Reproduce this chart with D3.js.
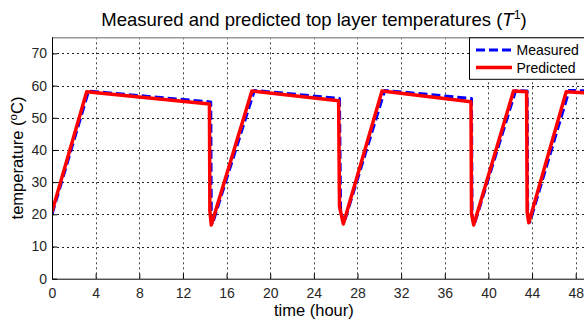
<!DOCTYPE html>
<html>
<head>
<meta charset="utf-8">
<script src="https://cdn.jsdelivr.net/npm/d3@7/dist/d3.min.js"></script>
<style>
  html, body { margin: 0; padding: 0; background: #fff; }
  svg { display: block; font-family: "Liberation Sans", Arial, sans-serif; }
</style>
</head>
<body>
<svg id="chart" width="584" height="323"></svg>
<script>
// Measured top layer temperature (blue dashed)
const measuredTime = [0, 3.35, 14.55, 14.6, 14.7, 18.55, 26.35, 26.45, 26.75, 30.5, 38.45, 38.5, 38.7, 42.5, 43.55, 43.6, 43.8, 47.4, 49.5];
const measuredTemp = [20.0, 58.3, 54.9, 20.5, 17.0, 58.5, 56.0, 21.5, 17.2, 58.5, 56.0, 20.0, 16.8, 58.5, 58.3, 20.5, 17.6, 58.5, 58.3];

// Predicted top layer temperature (red solid)
const predictedTime = [0, 3.18, 14.43, 14.47, 14.6, 18.32, 26.27, 26.35, 26.7, 30.25, 38.4, 38.45, 38.65, 42.3, 43.5, 43.55, 43.7, 47.13, 49.5];
const predictedTemp = [20.8, 58.1, 54.3, 21.0, 16.7, 58.3, 55.3, 22.4, 17.0, 58.3, 55.0, 20.3, 16.7, 58.3, 58.1, 20.8, 17.4, 58.1, 57.6];

const xTicks = [0, 4, 8, 12, 16, 20, 24, 28, 32, 36, 40, 44, 48];
const yTicks = [0, 10, 20, 30, 40, 50, 60, 70];

const svg = d3.select("#chart");
const padL = 52, padB = 278.7, padT = 37.3, padR = 590;

const x = d3.scaleLinear().domain([0, 48]).range([padL, 575.7]);
const y = d3.scaleLinear().domain([0, 75]).range([padB, padT]);

// grid
const grid = svg.append("g");
grid.selectAll(".gy").data(yTicks.filter(d => d > 0)).join("line")
  .attr("x1", padL).attr("x2", padR)
  .attr("y1", d => Math.round(y(d)) + 0.5).attr("y2", d => Math.round(y(d)) + 0.5)
  .attr("stroke", "#222").attr("stroke-width", 1).attr("stroke-dasharray", "2,3");
grid.selectAll(".gx").data(xTicks.filter(d => d > 0)).join("line")
  .attr("x1", d => Math.round(x(d)) + 0.5).attr("x2", d => Math.round(x(d)) + 0.5)
  .attr("y1", padT).attr("y2", padB)
  .attr("stroke", "#444").attr("stroke-width", 1).attr("stroke-dasharray", "2,3");

// clip for curves
svg.append("clipPath").attr("id", "plotClip").append("rect")
  .attr("x", padL).attr("y", padT).attr("width", padR - padL).attr("height", padB - padT);

const line = d3.line().x(d => x(d[0])).y(d => y(d[1]));
const measured = measuredTime.map((t, i) => [t, measuredTemp[i]]);
const predicted = predictedTime.map((t, i) => [t, predictedTemp[i]]);

const curves = svg.append("g").attr("clip-path", "url(#plotClip)");
curves.append("path").datum(measured).attr("d", line)
  .attr("fill", "none").attr("stroke", "#0000ff").attr("stroke-width", 3)
  .attr("stroke-dasharray", "9,4").attr("stroke-linejoin", "round");
curves.append("path").datum(predicted).attr("d", line)
  .attr("fill", "none").attr("stroke", "#ff0000").attr("stroke-width", 3.5)
  .attr("stroke-linejoin", "round");

// axes frame
svg.append("line").attr("x1", padL).attr("x2", padR).attr("y1", padT + 0.5).attr("y2", padT + 0.5)
  .attr("stroke", "#999").attr("stroke-width", 1.5);
const xAxis = d3.axisBottom(x).tickValues(xTicks).tickSize(-5).tickPadding(9).tickFormat(d3.format("d"));
const yAxis = d3.axisLeft(y).tickValues(yTicks).tickSize(-5).tickPadding(5).tickFormat(d3.format("d"));

const gx = svg.append("g").attr("transform", `translate(0,${padB})`).call(xAxis);
gx.select(".domain").attr("d", `M${padL},0.5H${padR}`).attr("stroke", "#000");
const gy = svg.append("g").attr("transform", `translate(${padL},0)`).call(yAxis);
gy.select(".domain").attr("d", `M0.5,${padT}V${padB}`).attr("stroke", "#000");

[gx, gy].forEach(g => {
  g.selectAll("text").attr("font-size", 14).attr("fill", "#262626")
    .attr("font-family", "'Liberation Sans', Arial, sans-serif");
  g.selectAll(".tick line").attr("stroke", "#000");
});

// axis labels
svg.append("text").attr("x", x(24)).attr("y", 316).attr("text-anchor", "middle")
  .attr("font-size", 16.5).attr("fill", "#000").text("time (hour)");
const yl = svg.append("text").attr("transform", `translate(23,${y(37.5)}) rotate(-90)`)
  .attr("text-anchor", "middle").attr("font-size", 16.5).attr("fill", "#000");
yl.append("tspan").text("temperature (");
yl.append("tspan").attr("dy", -6).attr("font-size", 11.5).text("o");
yl.append("tspan").attr("dy", 6).text("C)");

// title
const title = svg.append("text").attr("x", 314).attr("y", 26).attr("text-anchor", "middle")
  .attr("font-size", 18.5).attr("fill", "#000");
title.append("tspan").text("Measured and predicted top layer temperatures (");
title.append("tspan").attr("font-style", "italic").text("T");
title.append("tspan").attr("dy", -7).attr("font-size", 12.5).text("1");
title.append("tspan").attr("dy", 7).text(")");

// legend
const lg = svg.append("g");
lg.append("rect").attr("x", 469.5).attr("y", padT + 0.5).attr("width", 130).attr("height", 41.5)
  .attr("fill", "#fff").attr("stroke", "#000").attr("stroke-width", 1);
const entries = [
  { label: "Measured", color: "#0000ff", dash: "9,4", w: 3, yy: 50 },
  { label: "Predicted", color: "#ff0000", dash: null, w: 3.5, yy: 67.5 }
];
entries.forEach(e => {
  lg.append("line").attr("x1", 476).attr("x2", 512).attr("y1", e.yy).attr("y2", e.yy)
    .attr("stroke", e.color).attr("stroke-width", e.w).attr("stroke-dasharray", e.dash);
  lg.append("text").attr("x", 516.5).attr("y", e.yy + 5).attr("font-size", 14)
    .attr("fill", "#000").text(e.label);
});
</script>
</body>
</html>
